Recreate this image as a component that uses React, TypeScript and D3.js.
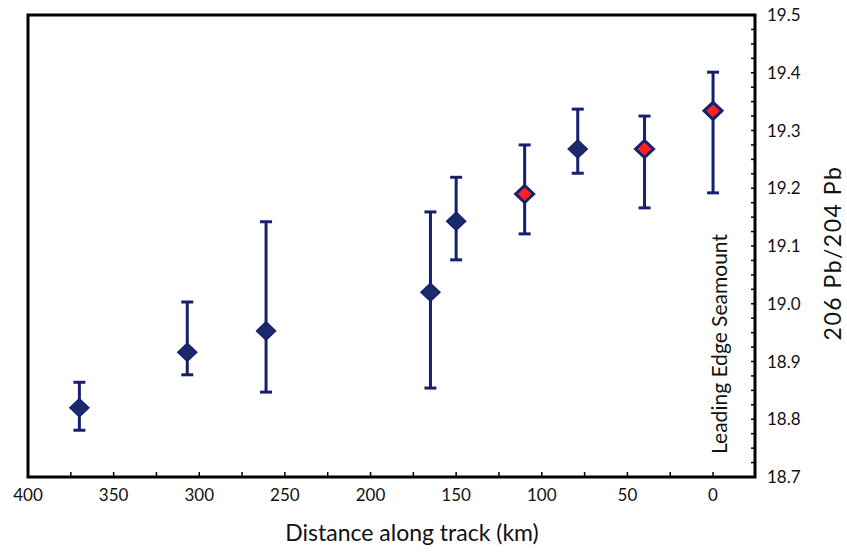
import React from "react";
import * as d3 from "d3";

const distances = [370, 307, 261, 165, 150, 110, 79, 40, 0];
const ratios = [18.82, 18.916, 18.953, 19.02, 19.143, 19.19, 19.268, 19.268, 19.334];
const errHigh = [18.864, 19.003, 19.142, 19.159, 19.219, 19.275, 19.337, 19.325, 19.401];
const errLow = [18.781, 18.877, 18.847, 18.854, 19.076, 19.121, 19.226, 19.166, 19.192];
const isLeadingEdge = [false, false, false, false, false, true, false, true, true];
const xTicksMajor = [400, 350, 300, 250, 200, 150, 100, 50, 0];
const yTicksMajor = [18.7, 18.8, 18.9, 19.0, 19.1, 19.2, 19.3, 19.4, 19.5];

const W = 847, H = 552;
const L = 28, R = 755, T = 15, B = 477;
const FONT = "Lato, 'Open Sans', sans-serif";

const diamondPath = (hw: number, hh: number) => {
  const p = d3.path();
  p.moveTo(0, -hh);
  p.lineTo(hw, 0);
  p.lineTo(0, hh);
  p.lineTo(-hw, 0);
  p.closePath();
  return p.toString();
};

export default function App() {
  const x = d3.scaleLinear().domain([400, -24.5]).range([L, R]);
  const y = d3.scaleLinear().domain([18.7, 19.5]).range([B, T]);
  const xMinor = d3.range(400, -1, -25);
  const yMinor = d3.range(0, 33).map((i) => 18.7 + i * 0.025);
  const navy = "#17206e";

  return (
    <svg width={W} height={H} style={{ position: "absolute", left: 0, top: 0, background: "#fff" }}>
      {xMinor.map((v) => (
        <line key={"xt" + v} x1={x(v)} x2={x(v)} y1={B} y2={B - 5} stroke="#000" strokeWidth={1.5} />
      ))}
      {yMinor.map((v, i) => (
        <line key={"yt" + i} x1={R} x2={R - 4} y1={y(v)} y2={y(v)} stroke="#000" strokeWidth={1.5} />
      ))}
      <rect x={L} y={T} width={R - L} height={B - T} fill="none" stroke="#000" strokeWidth={3} />
      {xTicksMajor.map((v) => (
        <text key={"xl" + v} x={x(v)} y={B + 24} textAnchor="middle" fontFamily={FONT} fontSize={17} fill="#111">
          {v}
        </text>
      ))}
      {yTicksMajor.map((v) => (
        <text key={"yl" + v} x={R + 12} y={y(v) + 6} textAnchor="start" fontFamily={FONT} fontSize={17} fill="#111">
          {v.toFixed(1)}
        </text>
      ))}
      <text x={412} y={541} textAnchor="middle" fontFamily={FONT} fontSize={23} fill="#111">
        Distance along track (km)
      </text>
      <text
        transform={`translate(841, 253) rotate(-90)`}
        textAnchor="middle"
        fontFamily={FONT}
        fontSize={23}
        letterSpacing={1.5}
        fill="#111"
      >
        206 Pb/204 Pb
      </text>
      <text
        transform={`translate(727, 344) rotate(-90)`}
        textAnchor="middle"
        fontFamily={FONT}
        fontSize={21}
        fill="#111"
      >
        Leading Edge Seamount
      </text>
      {distances.map((d, i) => {
        const cx = x(d);
        const lead = isLeadingEdge[i];
        return (
          <g key={"p" + i}>
            <line x1={cx} x2={cx} y1={y(errHigh[i])} y2={y(errLow[i])} stroke={navy} strokeWidth={3} />
            <line x1={cx - 6} x2={cx + 6} y1={y(errHigh[i])} y2={y(errHigh[i])} stroke={navy} strokeWidth={3} />
            <line x1={cx - 6} x2={cx + 6} y1={y(errLow[i])} y2={y(errLow[i])} stroke={navy} strokeWidth={3} />
            <path
              d={lead ? diamondPath(9, 8.5) : diamondPath(9.5, 9)}
              transform={`translate(${cx},${y(ratios[i])})`}
              fill={lead ? "#ff2020" : "#1b2a6a"}
              stroke={navy}
              strokeWidth={lead ? 3 : 1.5}
              strokeLinejoin="miter"
            />
          </g>
        );
      })}
    </svg>
  );
}
